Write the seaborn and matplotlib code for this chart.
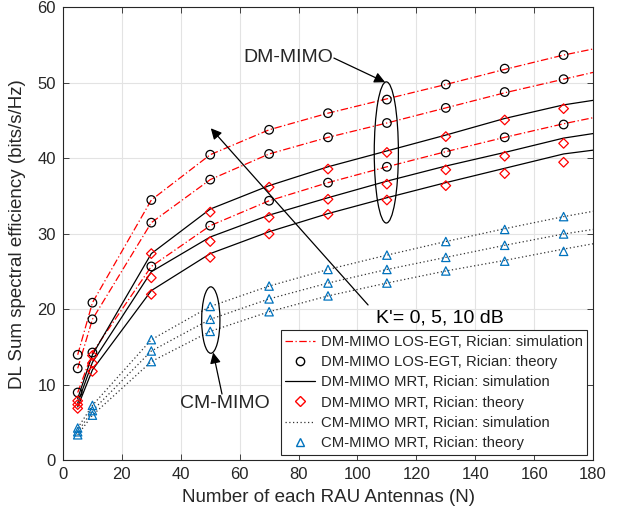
import numpy as np
import pandas as pd
import matplotlib
matplotlib.use("Agg")
import matplotlib.pyplot as plt
import seaborn as sns
from matplotlib.patches import Ellipse

# Number of antennas per RAU
n_theory = [5, 10, 30, 50, 70, 90, 110, 130, 150, 170]
n_sim = [5, 10, 30, 50, 70, 90, 110, 130, 150, 170, 180]

# DM-MIMO LOS-EGT, K' = 10, 5, 0 dB
egt_theory = [
    [14.0, 20.9, 34.5, 40.5, 43.8, 46.0, 47.8, 49.8, 51.9, 53.7],
    [12.2, 18.7, 31.5, 37.2, 40.6, 42.8, 44.7, 46.7, 48.8, 50.5],
    [9.0, 14.3, 25.7, 31.1, 34.4, 36.8, 38.9, 40.8, 42.8, 44.5],
]
egt_sim = [
    [14.0, 20.9, 34.5, 40.5, 43.8, 46.0, 47.9, 49.8, 51.8, 53.7, 54.5],
    [12.2, 18.7, 31.5, 37.2, 40.6, 42.8, 44.7, 46.7, 48.7, 50.5, 51.4],
    [9.0, 14.3, 25.7, 31.1, 34.4, 36.8, 38.9, 40.9, 42.8, 44.6, 45.4],
]

# DM-MIMO MRT, K' = 10, 5, 0 dB
mrt_theory = [
    [7.9, 13.9, 27.4, 32.9, 36.2, 38.6, 40.8, 42.9, 45.1, 46.6],
    [7.4, 12.9, 24.2, 29.0, 32.2, 34.6, 36.6, 38.5, 40.3, 42.0],
    [6.9, 11.8, 22.0, 26.9, 30.0, 32.6, 34.5, 36.4, 38.0, 39.5],
]
mrt_sim = [
    [8.2, 14.0, 27.4, 33.3, 36.4, 38.9, 41.0, 43.1, 45.3, 47.1, 47.7],
    [7.6, 13.0, 25.0, 29.6, 32.5, 34.8, 37.0, 39.0, 40.8, 42.7, 43.3],
    [7.1, 12.0, 22.5, 27.4, 30.3, 32.7, 34.8, 36.8, 38.7, 40.6, 41.1],
]

# CM-MIMO MRT, K' = 10, 5, 0 dB
cm_theory = [
    [4.3, 7.3, 16.0, 20.4, 23.1, 25.3, 27.2, 29.0, 30.6, 32.3],
    [3.8, 6.6, 14.5, 18.7, 21.4, 23.5, 25.3, 26.9, 28.5, 30.0],
    [3.4, 6.0, 13.1, 17.1, 19.7, 21.8, 23.5, 25.1, 26.4, 27.7],
]
cm_sim = [
    [4.3, 7.3, 16.0, 20.4, 23.1, 25.3, 27.2, 29.0, 30.7, 32.3, 33.0],
    [3.8, 6.6, 14.5, 18.7, 21.4, 23.5, 25.3, 26.9, 28.5, 30.0, 30.6],
    [3.4, 6.0, 13.1, 17.1, 19.7, 21.8, 23.5, 25.1, 26.5, 28.0, 28.7],
]

legend_labels = [
    "DM-MIMO LOS-EGT, Rician: simulation",
    "DM-MIMO LOS-EGT, Rician: theory",
    "DM-MIMO MRT, Rician: simulation",
    "DM-MIMO MRT, Rician: theory",
    "CM-MIMO MRT, Rician: simulation",
    "CM-MIMO MRT, Rician: theory",
]

sns.set_style("whitegrid")
plt.rcParams["font.family"] = ["Liberation Sans", "DejaVu Sans"]

fig = plt.figure(figsize=(6.21, 5.16), dpi=100)
ax = fig.add_axes([0.1014, 0.1076, 0.8536, 0.8779])

red = "#FF0000"
blue = "#0072BD"

groups = [
    (egt_sim, egt_theory, dict(color=red, linestyle=(0, (6, 2, 1, 2)), linewidth=0.9),
     dict(marker="o", edgecolor="black", s=38)),
    (mrt_sim, mrt_theory, dict(color="black", linestyle="-", linewidth=0.9),
     dict(marker="D", edgecolor=red, s=24)),
    (cm_sim, cm_theory, dict(color="#333333", linestyle=(0, (1, 2)), linewidth=0.9),
     dict(marker="^", edgecolor=blue, s=36)),
]

handles = []
for sim_set, th_set, lstyle, mstyle in groups:
    for k, (ys, yt) in enumerate(zip(sim_set, th_set)):
        sns.lineplot(x=n_sim, y=ys, ax=ax, estimator=None, sort=False,
                     color=lstyle["color"], linewidth=lstyle["linewidth"],
                     linestyle=lstyle["linestyle"], zorder=2)
        sns.scatterplot(x=n_theory, y=yt, ax=ax, marker=mstyle["marker"],
                        facecolor="none", edgecolor=mstyle["edgecolor"],
                        linewidth=0.9, s=mstyle["s"], zorder=3)
    handles.append(plt.Line2D([], [], color=lstyle["color"],
                              linestyle=lstyle["linestyle"],
                              linewidth=lstyle["linewidth"]))
    handles.append(plt.Line2D([], [], linestyle="none", marker=mstyle["marker"],
                              markerfacecolor="none",
                              markeredgecolor=mstyle["edgecolor"],
                              markersize=6 if mstyle["marker"] != "D" else 5))

ax.set_xlim(0, 180)
ax.set_ylim(0, 60)
ax.set_xticks(np.arange(0, 181, 20))
ax.set_yticks(np.arange(0, 61, 10))
ax.grid(True, color="#E3E3E3", linewidth=0.8)
ax.set_axisbelow(True)
for sp in ax.spines.values():
    sp.set_visible(True)
    sp.set_color("#262626")
    sp.set_linewidth(0.8)
ax.tick_params(direction="in", length=4, width=0.6, colors="#262626",
               labelsize=12, top=True, right=True, bottom=True, left=True,
               labeltop=False, labelright=False, pad=5)
ax.set_xlabel("Number of each RAU Antennas (N)", fontsize=13.5,
              color="#262626", labelpad=5)
ax.set_ylabel("DL Sum spectral efficiency (bits/s/Hz)", fontsize=13.5,
              color="#262626", labelpad=8)

# Grouping ellipses and annotations
ax.add_patch(Ellipse((109.8, 40.8), 8.2, 18.7, fill=False,
                     edgecolor="black", linewidth=0.9, zorder=4))
ax.add_patch(Ellipse((50.2, 18.6), 6.2, 8.8, fill=False,
                     edgecolor="black", linewidth=0.9, zorder=4))

ax.annotate("", xy=(50.2, 44.0), xytext=(103.6, 20.6),
            arrowprops=dict(arrowstyle="-|>", color="black", lw=0.9,
                            mutation_scale=16, shrinkA=0, shrinkB=0))
ax.text(128.0, 18.9, "K'= 0, 5, 10 dB", fontsize=14, ha="center",
        va="center", color="black")

ax.annotate("", xy=(109.4, 50.1), xytext=(92.0, 53.3),
            arrowprops=dict(arrowstyle="-|>", color="black", lw=0.9,
                            mutation_scale=16, shrinkA=0, shrinkB=0))
ax.text(76.4, 53.4, "DM-MIMO", fontsize=14, ha="center", va="center")

ax.annotate("", xy=(51.0, 14.3), xytext=(54.0, 8.8),
            arrowprops=dict(arrowstyle="-|>", color="black", lw=0.9,
                            mutation_scale=16, shrinkA=0, shrinkB=0))
ax.text(55.0, 7.6, "CM-MIMO", fontsize=14, ha="center", va="center")

leg = ax.legend(handles, legend_labels, loc="lower right", fontsize=10.7,
                frameon=True, fancybox=False, edgecolor="#262626",
                framealpha=1, borderaxespad=0.4, handlelength=2.0,
                handletextpad=0.4, labelspacing=0.42, borderpad=0.3)
leg.get_frame().set_linewidth(0.8)

fig.savefig("out.png", dpi=100)
